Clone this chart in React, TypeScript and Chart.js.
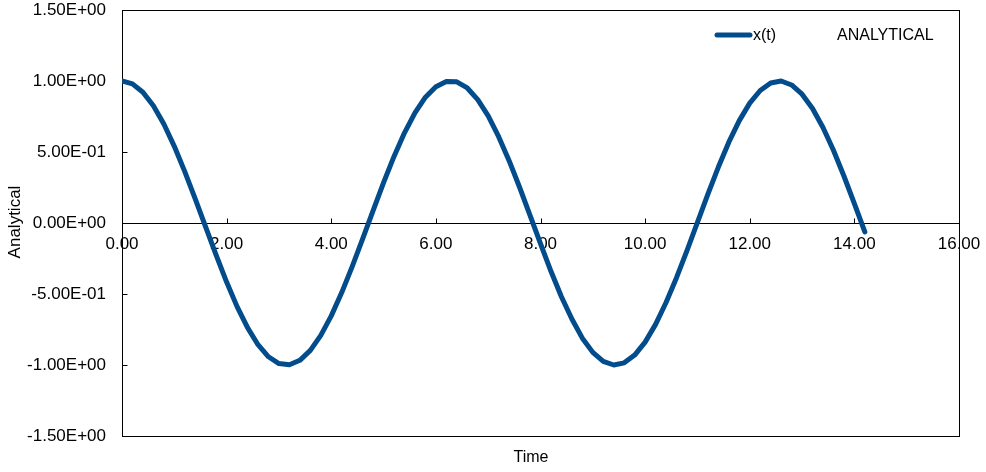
import React, { useEffect, useRef } from "react";
import { Chart, registerables } from "chart.js";

Chart.register(...registerables);

const timeValues: number[] = [
  0, 0.2, 0.4, 0.6, 0.8, 1.0, 1.2, 1.4, 1.6, 1.8, 2.0, 2.2, 2.4, 2.6, 2.8, 3.0, 3.2, 3.4, 3.6, 3.8,
  4.0, 4.2, 4.4, 4.6, 4.8, 5.0, 5.2, 5.4, 5.6, 5.8, 6.0, 6.2, 6.4, 6.6, 6.8, 7.0, 7.2, 7.4, 7.6, 7.8,
  8.0, 8.2, 8.4, 8.6, 8.8, 9.0, 9.2, 9.4, 9.6, 9.8, 10.0, 10.2, 10.4, 10.6, 10.8, 11.0, 11.2, 11.4, 11.6, 11.8,
  12.0, 12.2, 12.4, 12.6, 12.8, 13.0, 13.2, 13.4, 13.6, 13.8, 14.0, 14.2,
];

const analyticalValues: number[] = [
  1.0, 0.98, 0.921, 0.825, 0.697, 0.54, 0.362, 0.17, -0.029, -0.227, -0.416, -0.589, -0.737, -0.857, -0.942, -0.99, -0.998, -0.967, -0.897, -0.791,
  -0.654, -0.49, -0.307, -0.112, 0.087, 0.284, 0.469, 0.635, 0.776, 0.886, 0.96, 0.997, 0.994, 0.951, 0.869, 0.754, 0.608, 0.439, 0.252, 0.054,
  -0.146, -0.34, -0.519, -0.676, -0.811, -0.911, -0.975, -1.0, -0.985, -0.93, -0.839, -0.714, -0.56, -0.385, -0.194, 0.004, 0.203, 0.394, 0.569, 0.721,
  0.844, 0.933, 0.986, 1.0, 0.972, 0.907, 0.806, 0.672, 0.512, 0.331, 0.137, -0.063,
];

const seriesLabel = "x(t)";
const legendNote = "ANALYTICAL";
const xTitle = "Time";
const yTitle = "Analytical";

const FONT = '"Liberation Sans", Arial, sans-serif';
const LINE_COLOR = "#034c8c";

function fmtExp(v: number): string {
  const [m, e] = v.toExponential(2).split("e");
  const n = parseInt(e, 10);
  return m + "E" + (n < 0 ? "-" : "+") + String(Math.abs(n)).padStart(2, "0");
}

const framePlugin = {
  id: "frame",
  beforeDatasetsDraw(chart: any) {
    const { ctx, chartArea } = chart;
    const xs = chart.scales.x;
    const ys = chart.scales.y;
    const y0 = Math.round(ys.getPixelForValue(0)) + 0.5;
    ctx.save();
    ctx.strokeStyle = "#000";
    ctx.lineWidth = 1;
    const l = Math.round(chartArea.left) + 0.5;
    const r = Math.round(chartArea.right) + 0.5;
    const t = Math.round(chartArea.top) + 0.5;
    const b = Math.round(chartArea.bottom) + 0.5;
    ctx.strokeRect(l, t, r - l, b - t);
    ctx.beginPath();
    ctx.moveTo(l, y0);
    ctx.lineTo(r, y0);
    for (const tk of ys.ticks) {
      const py = Math.round(ys.getPixelForValue(tk.value)) + 0.5;
      ctx.moveTo(l, py);
      ctx.lineTo(l + 5, py);
    }
    for (const tk of xs.ticks) {
      const px = Math.round(xs.getPixelForValue(tk.value)) + 0.5;
      ctx.moveTo(px, y0);
      ctx.lineTo(px, y0 - 5);
    }
    ctx.stroke();
    ctx.restore();
  },
  afterDraw(chart: any) {
    const { ctx } = chart;
    ctx.save();
    ctx.fillStyle = "#000";
    ctx.font = "16px " + FONT;
    ctx.textAlign = "center";
    ctx.textBaseline = "middle";
    ctx.fillText(xTitle, 531, 458);
    ctx.save();
    ctx.font = "17px " + FONT;
    ctx.translate(15, 222);
    ctx.rotate(-Math.PI / 2);
    ctx.fillText(yTitle, 0, 0);
    ctx.restore();
    // legend
    ctx.strokeStyle = LINE_COLOR;
    ctx.lineWidth = 5;
    ctx.lineCap = "round";
    ctx.beginPath();
    ctx.moveTo(717, 35);
    ctx.lineTo(750, 35);
    ctx.stroke();
    ctx.textAlign = "left";
    ctx.fillText(seriesLabel, 753, 36);
    ctx.fillText(legendNote, 837, 36);
    ctx.restore();
  },
};

export default function App() {
  const ref = useRef<HTMLCanvasElement | null>(null);
  useEffect(() => {
    if (!ref.current) return;
    const chart = new Chart(ref.current, {
      type: "line",
      data: {
        datasets: [
          {
            label: seriesLabel,
            data: timeValues.map((t, i) => ({ x: t, y: analyticalValues[i] })),
            borderColor: LINE_COLOR,
            borderWidth: 5,
            pointRadius: 0,
            tension: 0,
            fill: false,
            borderCapStyle: "round",
            borderJoinStyle: "round",
          },
        ],
      },
      options: {
        responsive: false,
        animation: false,
        layout: { padding: { top: 10, right: 27, bottom: 36, left: 0 } },
        plugins: { legend: { display: false }, tooltip: { enabled: false } },
        scales: {
          x: {
            type: "linear",
            min: 0,
            max: 16,
            position: { y: 0 } as any,
            grid: { display: false, drawTicks: false },
            border: { display: false },
            ticks: {
              stepSize: 2,
              color: "#000",
              padding: 11,
              maxRotation: 0,
              font: { family: FONT, size: 17 },
              callback: (v: any) => Number(v).toFixed(2),
            },
            afterFit: (s: any) => {
              s.paddingLeft = 0;
              s.paddingRight = 0;
            },
          },
          y: {
            type: "linear",
            min: -1.5,
            max: 1.5,
            grid: { display: false, drawTicks: false },
            border: { display: false },
            ticks: {
              stepSize: 0.5,
              color: "#000",
              padding: 16,
              font: { family: FONT, size: 17 },
              callback: (v: any) => fmtExp(Number(v)),
            },
            afterFit: (s: any) => {
              s.width = 122;
              s.paddingTop = 0;
              s.paddingBottom = 0;
            },
          },
        },
      },
      plugins: [framePlugin],
    } as any);
    return () => chart.destroy();
  }, []);
  return (
    <div style={{ position: "absolute", left: 0, top: 0, width: 986, height: 472 }}>
      <canvas ref={ref} width={986} height={472} style={{ width: 986, height: 472 }} />
    </div>
  );
}
